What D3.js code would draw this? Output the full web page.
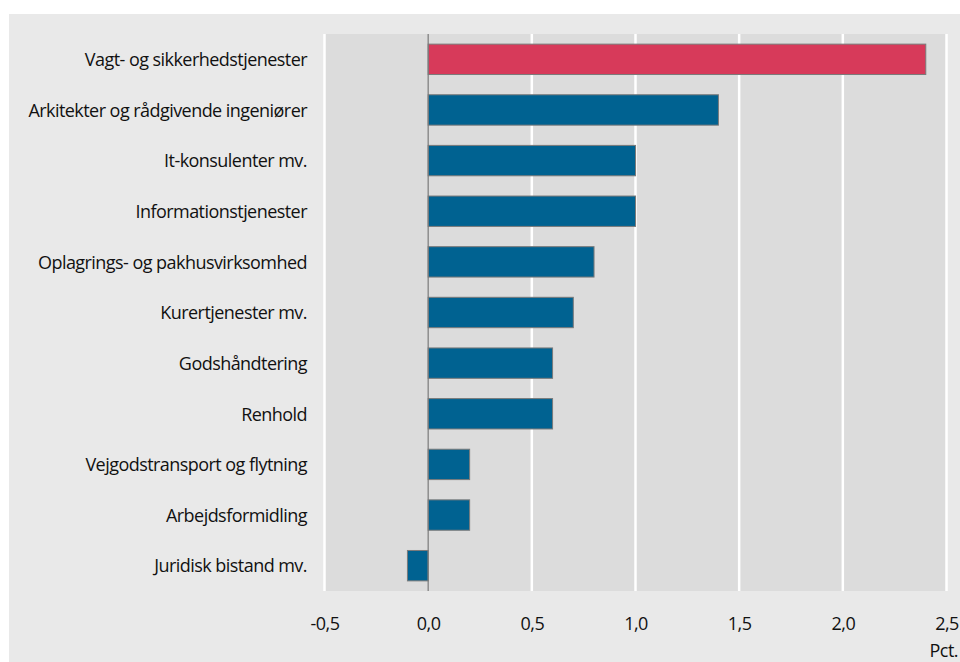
<!DOCTYPE html>
<html>
<head>
<meta charset="utf-8">
<script src="https://cdn.jsdelivr.net/npm/d3@7"></script>
<style>
  body { margin: 0; background: #fff; }
  svg { display: block; font-family: "Open Sans", sans-serif; }
</style>
</head>
<body>
<svg width="960" height="662"></svg>
<script>
// branches and change in pct.
var categories = ["Vagt- og sikkerhedstjenester", "Arkitekter og rådgivende ingeniører", "It-konsulenter mv.",
  "Informationstjenester", "Oplagrings- og pakhusvirksomhed", "Kurertjenester mv.", "Godshåndtering",
  "Renhold", "Vejgodstransport og flytning", "Arbejdsformidling", "Juridisk bistand mv."];
var values = [2.4, 1.4, 1.0, 1.0, 0.8, 0.7, 0.6, 0.6, 0.2, 0.2, -0.1];
var tickValues = [-0.5, 0, 0.5, 1.0, 1.5, 2.0, 2.5];
var unitLabel = "Pct.";

var svg = d3.select("svg");

// outer panel
svg.append("rect").attr("x", 9).attr("y", 14).attr("width", 951).attr("height", 648).attr("fill", "#e9e9e9");

var xScale = d3.scaleLinear().domain([-0.5, 2.5]).range([324.5, 946.5]);
var yScale = d3.scaleBand().domain(categories).range([34, 591]).paddingInner(0.4).paddingOuter(0.2);

// plot area
svg.append("rect")
  .attr("x", xScale(-0.5)).attr("y", 34)
  .attr("width", xScale(2.5) - xScale(-0.5)).attr("height", 591 - 34)
  .attr("fill", "#dcdcdc");

// grid
svg.selectAll(".grid")
  .data(tickValues.filter(d => d !== 0))
  .enter().append("line")
    .attr("class", "grid")
    .attr("x1", d => xScale(d)).attr("x2", d => xScale(d))
    .attr("y1", 34).attr("y2", 591)
    .attr("stroke", "#fff").attr("stroke-width", 2.5);

svg.selectAll(".bar")
  .data(values)
  .enter().append("rect")
    .attr("class", "bar")
    .attr("x", d => xScale(Math.min(0, d)))
    .attr("y", (d, i) => yScale(categories[i]))
    .attr("width", d => Math.abs(xScale(d) - xScale(0)))
    .attr("height", yScale.bandwidth())
    .attr("fill", (d, i) => i === 0 ? "#d73a5a" : "#006291")
    .attr("stroke", "#7a7a7a").attr("stroke-width", 1);

// zero line
svg.append("line")
  .attr("x1", xScale(0)).attr("x2", xScale(0))
  .attr("y1", 34).attr("y2", 591)
  .attr("stroke", "#7a7a7a").attr("stroke-width", 1.2);

// category labels
var yAxis = d3.axisLeft(yScale).tickSize(0).tickPadding(0);
svg.append("g")
  .attr("transform", "translate(307,1)")
  .call(yAxis)
  .call(g => g.select(".domain").remove())
  .selectAll("text")
    .style("font-family", "Open Sans, sans-serif")
    .style("font-size", "18px")
    .attr("fill", "#111")
    .attr("letter-spacing", "-0.55");

// x axis
var xAxis = d3.axisBottom(xScale)
  .tickValues(tickValues)
  .tickSize(0)
  .tickPadding(0)
  .tickFormat(d => d3.format(".1f")(d).replace(".", ",").replace("−", "-"));
svg.append("g")
  .attr("transform", "translate(0,617)")
  .call(xAxis)
  .call(g => g.select(".domain").remove())
  .selectAll("text")
    .style("font-family", "Open Sans, sans-serif")
    .style("font-size", "18px")
    .attr("fill", "#111")
    .attr("letter-spacing", "-0.55");

svg.append("text")
  .attr("x", 958).attr("y", 657)
  .attr("text-anchor", "end")
  .style("font-size", "18px")
  .attr("letter-spacing", "-0.55")
  .attr("fill", "#111")
  .text(unitLabel);
</script>
</body>
</html>
